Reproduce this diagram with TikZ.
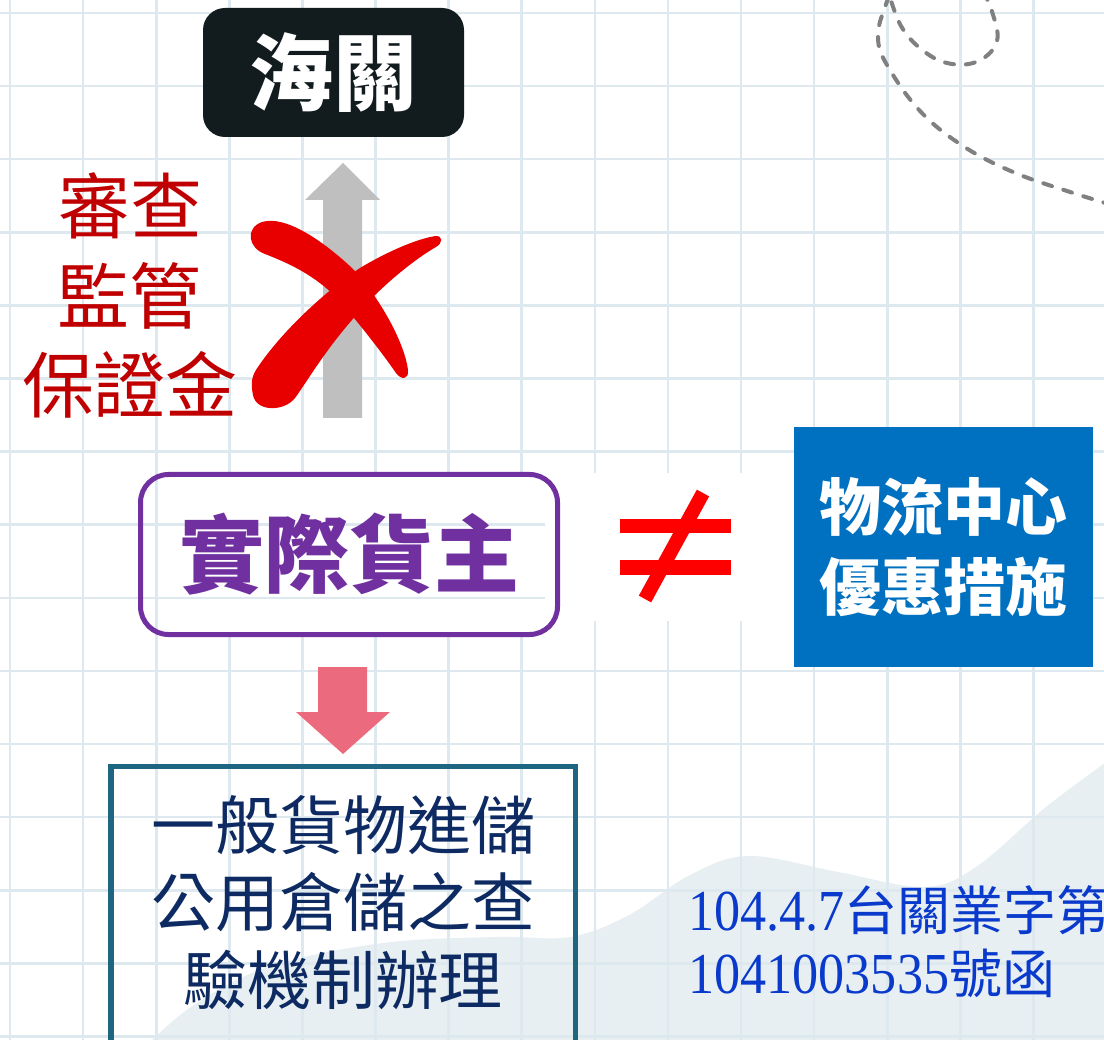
\documentclass[tikz,border=0pt]{standalone}
\usepackage{fontspec}
\newfontfamily\cjk{Noto Sans CJK TC}
\newfontfamily\refserif[FakeStretch=0.9]{Liberation Serif}
\newfontfamily\refcjk{Noto Sans CJK TC}
\definecolor{gridc}{HTML}{DDE9EE}
\definecolor{wavec}{HTML}{E8EFF3}
\definecolor{darkbox}{HTML}{121C1F}
\definecolor{grayarrow}{HTML}{BFBFBF}
\definecolor{xred}{HTML}{E80000}
\definecolor{redtext}{HTML}{C00000}
\definecolor{purp}{HTML}{7030A0}
\definecolor{neqred}{HTML}{FF0000}
\definecolor{bluebox}{HTML}{0070C0}
\definecolor{pinkarrow}{HTML}{EC6A7E}
\definecolor{tealbox}{HTML}{1D6580}
\definecolor{navytext}{HTML}{0D2B62}
\definecolor{refblue}{HTML}{0A3ACC}
\definecolor{dashgray}{HTML}{808080}
\tikzset{
  gridline/.style={draw=gridc, line width=2.6pt},
  boxtext/.style={inner sep=0pt, align=center},
}
\begin{document}
\begin{tikzpicture}[x=1pt,y=-1pt]
\useasboundingbox (0,0) rectangle (1104,1040);
\clip (0,0) rectangle (1104,1040);
\fill[white] (0,0) rectangle (1104,1040);
% wave
\fill[wavec] plot[smooth, tension=0.6] coordinates {(140,1052) (191,1007) (268,967) (383,943) (497,937) (570,937) (629,915) (690,875) (749,856) (838,872) (924,887) (976,867) (1046,807) (1112,758)} -- (1112,1052) -- cycle;
% vertical grid lines
\foreach \i in {0,...,14} { \draw[gridline] ({10+73.1*\i},0) -- ({10+73.1*\i},1040); }
\fill[white] (165,476) rectangle (543,632);
% horizontal grid lines
\foreach \i in {0,...,14} { \draw[gridline] (0,{13+73.1*\i}) -- (1104,{13+73.1*\i}); }
\fill[white] (545,473) rectangle (796,621);
% dashed curve
\draw[dashgray, line width=4pt, line cap=round, dash pattern=on 9pt off 12pt]
  plot[smooth, tension=0.65] coordinates {(1112,205) (1067,191) (1013,172) (963,146) (920,111) (887,65) (878,38) (884,10) (897,-12) (940,-38) (978,-14) (994,18) (996,44) (976,62) (947,63) (921,49) (901,26) (889,-6)};
% customs box
\node[fill=darkbox, rounded corners=22pt, minimum width=261pt, minimum height=129pt, inner sep=0pt,
      text=white, font={\cjk\bfseries\fontsize{84}{84}\selectfont}] (customs) at (333.5,72.5) {海關};
% gray up arrow
\fill[grayarrow] (323,418) -- (323,200) -- (305,200) -- (343,163) -- (380,200) -- (362,200) -- (362,418) -- cycle;
% red text
\node[boxtext, text=redtext, font={\cjk\fontsize{72}{89.5}\selectfont}] (review) at (130,295.5) {審查\\監管\\保證金};
% red X
\fill[xred] (262,222) .. controls (285,215) and (322,240) .. (352,268)
  .. controls (382,300) and (405,345) .. (408,370)
  .. controls (409,380) and (401,380) .. (396,373)
  .. controls (380,350) and (355,318) .. (335,296)
  .. controls (310,272) and (285,262) .. (265,254)
  .. controls (248,248) and (245,228) .. (262,222) -- cycle;
\fill[xred] (256,370) .. controls (278,336) and (320,295) .. (360,268)
  .. controls (390,250) and (420,238) .. (436,236)
  .. controls (443,236) and (443,243) .. (436,247)
  .. controls (410,262) and (375,292) .. (352,320)
  .. controls (324,352) and (304,386) .. (295,398)
  .. controls (284,412) and (256,412) .. (253,395)
  .. controls (251,385) and (251,378) .. (256,370) -- cycle;
% owner box
\node[draw=purp, line width=5pt, rounded corners=28pt, minimum width=417pt, minimum height=160pt, inner sep=0pt,
      text=purp, font={\cjk\bfseries\fontsize{85}{85}\selectfont}] (owner) at (349,554.5) {實際貨主};
% not equal sign
\fill[neqred] (620,519) rectangle (731,533);
\fill[neqred] (620,560) rectangle (731,575);
\draw[neqred, line width=14pt] (703,493) -- (645,599);
% blue box
\node[fill=bluebox, minimum width=299pt, minimum height=240pt, inner sep=0pt, align=center,
      text=white, font={\cjk\bfseries\fontsize{62}{80}\selectfont}] (center) at (943.5,547) {物流中心\\優惠措施};
% pink down arrow
\fill[pinkarrow] (318,667) -- (367,667) -- (367,712) -- (390,712) -- (343,754) -- (296,712) -- (318,712) -- cycle;
% bottom box
\node[draw=tealbox, line width=5.5pt, minimum width=464.5pt, minimum height=340pt, inner sep=0pt, anchor=north] (storage) at (343.25,763.5) {};
\node[boxtext, text=navytext, font={\cjk\fontsize{64}{77.5}\selectfont}] (storagetext) at (343,902.5) {一般貨物進儲\\公用倉儲之查\\驗機制辦理};
% reference text
\node[inner sep=0pt, anchor=base west, text=refblue] (ref1) at (688,930)
  {{\refserif\fontsize{58}{63}\selectfont 104.4.7}{\refcjk\fontsize{53}{63}\selectfont 台關業字第}};
\node[inner sep=0pt, anchor=base west, text=refblue] (ref2) at (688,993)
  {{\refserif\fontsize{58}{63}\selectfont 1041003535}{\refcjk\fontsize{53}{63}\selectfont 號函}};
\end{tikzpicture}
\end{document}
